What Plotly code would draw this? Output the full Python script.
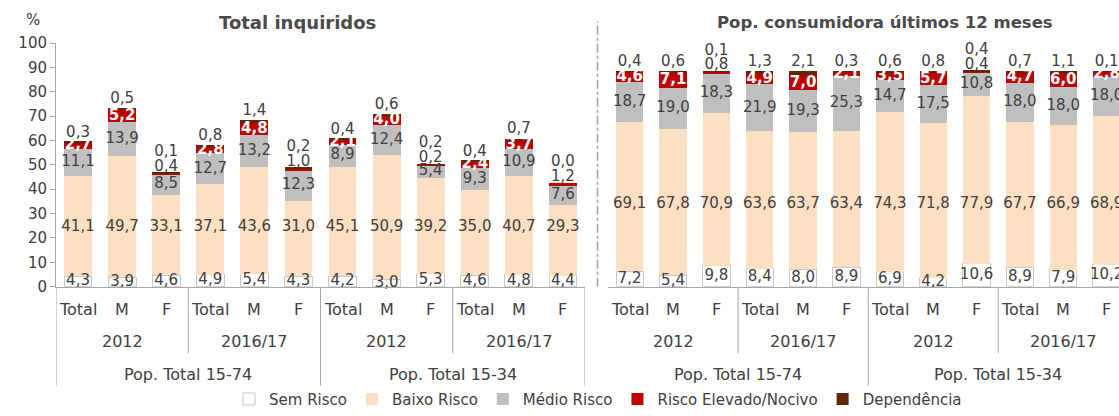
import plotly.graph_objects as go

# ---------------- data ----------------
SEX = ["Total", "M", "F"]
YEARS = ["2012", "2016/17"]
POPS = ["Pop. Total 15-74", "Pop. Total 15-34"]
SERIES = ["Sem Risco", "Baixo Risco", "Médio Risco", "Risco Elevado/Nocivo", "Dependência"]
PANEL_TITLES = ["Total inquiridos", "Pop. consumidora últimos 12 meses"]
Y_TICKS = [0, 10, 20, 30, 40, 50, 60, 70, 80, 90, 100]

# order: 15-74 2012 (Total, M, F), 15-74 2016/17 (...), 15-34 2012 (...), 15-34 2016/17 (...)
tot_sem = [4.3, 3.9, 4.6, 4.9, 5.4, 4.3, 4.2, 3.0, 5.3, 4.6, 4.8, 4.4]
tot_baixo = [41.1, 49.7, 33.1, 37.1, 43.6, 31.0, 45.1, 50.9, 39.2, 35.0, 40.7, 29.3]
tot_medio = [11.1, 13.9, 8.5, 12.7, 13.2, 12.3, 8.9, 12.4, 5.4, 9.3, 10.9, 7.6]
tot_elev = [2.7, 5.2, 0.4, 2.8, 4.8, 1.0, 2.1, 4.0, 0.2, 2.4, 3.7, 1.2]
tot_dep = [0.3, 0.5, 0.1, 0.8, 1.4, 0.2, 0.4, 0.6, 0.2, 0.4, 0.7, 0.0]

con_sem = [7.2, 5.4, 9.8, 8.4, 8.0, 8.9, 6.9, 4.2, 10.6, 8.9, 7.9, 10.2]
con_baixo = [69.1, 67.8, 70.9, 63.6, 63.7, 63.4, 74.3, 71.8, 77.9, 67.7, 66.9, 68.9]
con_medio = [18.7, 19.0, 18.3, 21.9, 19.3, 25.3, 14.7, 17.5, 10.8, 18.0, 18.0, 18.0]
con_elev = [4.6, 7.1, 0.8, 4.9, 7.0, 2.1, 3.5, 5.7, 0.4, 4.7, 6.0, 2.8]
con_dep = [0.4, 0.6, 0.1, 1.3, 2.1, 0.3, 0.6, 0.8, 0.4, 0.7, 1.1, 0.1]

# ---------------- style ----------------
W, H = 1119, 416
FONT = "DejaVu Sans"
TXT = "#404040"
AXC = "#A6A6A6"
COLORS = ["#FFFFFF", "#FDDFC1", "#BFBFBF", "#C00000", "#5A2A08"]
PLOT_TOP_PX, PLOT_BOT_PX = 44, 293
Y_RANGES = [[0, 100], [0, 113.0]]
X_DOMAINS = [[56 / W, 585 / W], [608 / W, 1.0]]
X_RANGES = [[-0.5, 11.5], [-0.5, -0.5 + 511 / 43.36]]
BAIXO_LABEL_LEVEL = [24.4, 38.2]   # label height used for the "Baixo Risco" values
LBL = 15


def py(px):  # pixel row -> paper fraction
    return (H - px) / H


def fmt(v):
    return f"{v:.1f}".replace(".", ",")


fig = go.Figure()

panels = [
    (tot_sem, tot_baixo, tot_medio, tot_elev, tot_dep),
    (con_sem, con_baixo, con_medio, con_elev, con_dep),
]

for p, vals in enumerate(panels):
    xa = "x" if p == 0 else "x2"
    ya = "y" if p == 0 else "y2"
    xs = list(range(len(vals[0])))
    for s, name in enumerate(SERIES):
        fig.add_trace(go.Bar(
            x=xs, y=vals[s], name=name, xaxis=xa, yaxis=ya,
            marker=dict(color=COLORS[s],
                        line=dict(color="#C8C8C8" if s == 0 else COLORS[s], width=1 if s == 0 else 0)),
            showlegend=(p == 0), legendgroup=name, hoverinfo="skip",
        ))

    sem, baixo, medio, elev, dep = vals
    unit = (PLOT_BOT_PX - PLOT_TOP_PX) / (Y_RANGES[p][1] - Y_RANGES[p][0])  # px per %

    dark_x, dark_y, dark_t = [], [], []
    white_x, white_y, white_t = [], [], []
    for i in xs:
        b0 = sem[i]
        b1 = b0 + baixo[i]
        b2 = b1 + medio[i]
        b3 = b2 + elev[i]
        top = b3 + dep[i]
        dark_x += [i, i, i]
        dark_y += [sem[i] / 2, BAIXO_LABEL_LEVEL[p], (b1 + b2) / 2]
        dark_t += [fmt(sem[i]), fmt(baixo[i]), fmt(medio[i])]
        if elev[i] >= 1.5:
            white_x.append(i)
            white_y.append((b2 + b3) / 2)
            white_t.append(fmt(elev[i]))
            dark_x.append(i)
            dark_y.append(top + 9 / unit)
            dark_t.append(fmt(dep[i]))
        else:
            dark_x += [i, i]
            dark_y += [top + 6 / unit, top + 21 / unit]
            dark_t += [fmt(elev[i]), fmt(dep[i])]

    fig.add_trace(go.Scatter(
        x=dark_x, y=dark_y, text=dark_t, mode="text", xaxis=xa, yaxis=ya,
        textfont=dict(family=FONT, size=LBL, color=TXT), textposition="middle center",
        showlegend=False, hoverinfo="skip", cliponaxis=False))
    fig.add_trace(go.Scatter(
        x=white_x, y=white_y, text=[f"<b>{t}</b>" for t in white_t], mode="text", xaxis=xa, yaxis=ya,
        textfont=dict(family=FONT, size=LBL, color="#FFFFFF"), textposition="middle center",
        showlegend=False, hoverinfo="skip", cliponaxis=False))

    # multi-level category labels and separators
    for i in xs:
        fig.add_annotation(x=i, y=py(316), xref=xa, yref="paper", text=SEX[i % 3],
                           showarrow=False, font=dict(family=FONT, size=16, color=TXT),
                           xanchor="center", yanchor="middle")
    for g in range(4):
        fig.add_annotation(x=g * 3 + 1, y=py(349), xref=xa, yref="paper", text=YEARS[g % 2],
                           showarrow=False, font=dict(family=FONT, size=16, color=TXT),
                           xanchor="center", yanchor="middle")
    for g in range(2):
        fig.add_annotation(x=g * 6 + 2.5, y=py(383), xref=xa, yref="paper", text=POPS[g],
                           showarrow=False, font=dict(family=FONT, size=16, color=TXT),
                           xanchor="center", yanchor="middle")
    for k in range(5):
        xb = -0.5 + 3 * k
        if p == 1 and k == 0:
            continue
        bottom = py(394) if k % 2 == 0 else py(361)
        fig.add_shape(type="line", xref=xa, yref="paper", x0=xb, x1=xb,
                      y0=py(PLOT_BOT_PX), y1=bottom, line=dict(color=AXC, width=1))

# titles
fig.add_annotation(x=297 / W, y=py(23), xref="paper", yref="paper", text=f"<b>{PANEL_TITLES[0]}</b>",
                   showarrow=False, font=dict(family=FONT, size=18, color="#4A4A4A"),
                   xanchor="center", yanchor="middle")
fig.add_annotation(x=885 / W, y=py(23), xref="paper", yref="paper", text=f"<b>{PANEL_TITLES[1]}</b>",
                   showarrow=False, font=dict(family=FONT, size=16.5, color="#4A4A4A"),
                   xanchor="center", yanchor="middle")
fig.add_annotation(x=33 / W, y=py(20), xref="paper", yref="paper", text="%",
                   showarrow=False, font=dict(family=FONT, size=15, color=TXT),
                   xanchor="center", yanchor="middle")

# dash-dot separator between panels
fig.add_shape(type="line", xref="paper", yref="paper", x0=597.5 / W, x1=597.5 / W,
              y0=py(293), y1=py(22), line=dict(color="#A0A0A0", width=1.5, dash="dashdot"))

fig.update_layout(
    width=W, height=H, template="none",
    margin=dict(l=0, r=0, t=0, b=0, pad=0),
    paper_bgcolor="white", plot_bgcolor="rgba(0,0,0,0)",
    barmode="stack", bargap=0.37,
    font=dict(family=FONT, size=15, color=TXT),
    xaxis=dict(domain=X_DOMAINS[0], range=X_RANGES[0], showline=True, linecolor=AXC, linewidth=1,
               showgrid=False, zeroline=False, showticklabels=False, ticks=""),
    yaxis=dict(domain=[py(PLOT_BOT_PX), py(PLOT_TOP_PX)], range=Y_RANGES[0], tickvals=Y_TICKS,
               showline=True, linecolor=AXC, linewidth=1, ticks="outside", ticklen=5, tickcolor=AXC,
               showgrid=False, zeroline=False, tickfont=dict(family=FONT, size=15, color=TXT)),
    xaxis2=dict(domain=X_DOMAINS[1], range=X_RANGES[1], anchor="y2", showline=True, linecolor=AXC,
                linewidth=1, showgrid=False, zeroline=False, showticklabels=False, ticks=""),
    yaxis2=dict(domain=[py(PLOT_BOT_PX), py(PLOT_TOP_PX)], range=Y_RANGES[1], anchor="x2",
                visible=False),
    legend=dict(orientation="h", x=598 / W, xanchor="center", y=py(408), yanchor="middle",
                font=dict(family=FONT, size=15, color=TXT), traceorder="normal",
                itemwidth=30, tracegroupgap=0, bgcolor="rgba(0,0,0,0)"),
)

fig.write_html("out.html", config={"displayModeBar": False},
               post_script="document.body.style.margin='0px';document.body.style.overflow='hidden';"
                           "document.documentElement.style.overflow='hidden';")
